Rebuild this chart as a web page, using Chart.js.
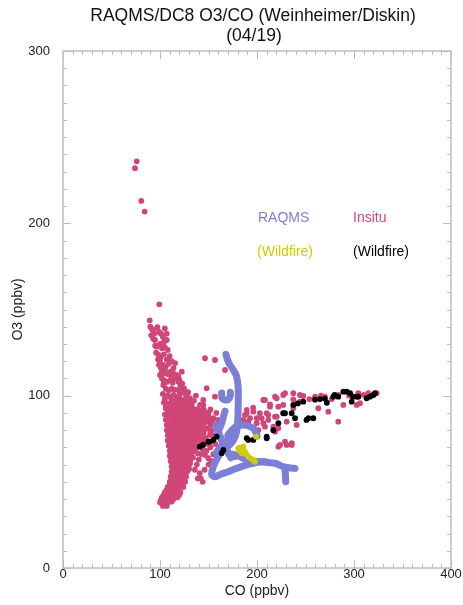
<!DOCTYPE html>
<html>
<head>
<meta charset="utf-8">
<title>RAQMS/DC8 O3/CO (Weinheimer/Diskin)</title>
<script src="https://cdn.jsdelivr.net/npm/chart.js@4/dist/chart.umd.min.js"></script>
<style>
  html, body { margin: 0; padding: 0; background: #ffffff; }
  canvas { display: block; }
</style>
</head>
<body>
<canvas id="chart" width="463" height="605"></canvas>
<script>
// ---- Axis ranges and tick labels ----
const coRange = [0, 400];
const o3Range = [0, 300];
const coTickLabels = [0, 100, 200, 300, 400];
const o3TickLabels = [0, 100, 200, 300];

// ---- In situ (DC8) CO / O3 pairs, ppbv ----
const insituHigh = [[76,236],[74.2,232],[80.7,213],[84.2,206.8],[99.3,153]];

const insituNorthArm = [
  [89.4,143.7],[92,138.3],[93,138.5],[97.3,139.7],[99,137],[101,136],[103,134],[105,139],[106.9,136],
  [94.8,132.3],[104,131],[107,132.3],[96.6,128.4],[100,130],[102,127.5],[105,128],[108,126.5],
  [98,124],[101,122.5],[104,124],[107,121],[110,123],[100,120.7],[103,118],[106,117],[109,118.5],
  [112,120],[102,114],[105.2,114.9],[108,112.5],[111,114],[113.7,113],[115.5,118.8],[103.4,113],
  [104,109],[107,108],[110.3,109],[113,107.5],[116,110],[118.9,108.1],[103.4,106.2],[106,104],
  [109,103],[112,104],[115,103.5],[118.9,103.3],[121,106],[122.4,113.9],[108,100],[111,99],
  [114,100.5],[117,99],[120,100.5],[124,102.3],[127.5,99.4],[130.9,98.5],[120.6,103.3],
  [132.7,94.6],[134.3,91.7],[124,92.7],[115.5,94.6],[108.6,94.6],[110.3,94.6],
  [90,140],[91,135],[93,133],[95,129],[94,136],[96,125],[98,121],[99,118],[101,116],[100,112],
  [102,110],[104,107],[117,112],[119,111],[114,116],[112,111],[120,109],[123,107],[125,104],
  [126,101],[129,102],[103,101],[105,98],[113,97],[117,96.5],[121,98],[125,97.5],[128,96],
  [131,96],[135,97]
];

const insituCore = [
  [104,96],[108,95.5],[112,96.5],[117,95],[122,96],
  [106,92.5],[110,92],[114,93],[118,92],[122,92.5],[127,92],[131,93],[136,92],
  [105,89],[109,89.5],[113,89],[117,89.5],[121,89],[125,89.5],[129,89],[133,89.5],[137,89],[142,90],
  [106,86],[110,86.5],[114,86],[118,86.5],[122,86],[126,86.5],[130,86],[134,86.5],[138,86],[144,86.5],
  [107,83],[111,83.5],[115,83],[119,83.5],[123,83],[127,83.5],[131,83],[135,83.5],[139,83],[145,83],[152,83],
  [107,80],[111,80.5],[115,80],[119,80.5],[123,80],[127,80.5],[131,80],[135,80.5],[140,80],[146,80.5],
  [108,77],[112,77.5],[116,77],[120,77.5],[124,77],[128,77.5],[132,77],[136,77.5],[142,77],
  [108,74],[112,74.5],[116,74],[120,74.5],[124,74],[128,74.5],[132,74],[137,74.5],[143,74.5],
  [109,71],[113,71.5],[117,71],[121,71.5],[125,71],[129,71.5],[134,71],[139,70.5],
  [110,68],[114,68.5],[118,68],[122,68.5],[126,68],[130,68.5],[135,68],
  [110,65],[114,65.5],[118,65],[122,65.5],[126,65],[131,65.5],
  [111,62],[115,62.5],[119,62],[123,62.5],[127,62],[131,62],
  [112,59],[116,59.5],[120,59],[124,59.5],[129,59],
  [112,56],[116,56.5],[120,56],[124,56.5],[128,56],
  [111,53],[115,53.5],[119,53],[123,53.5],[127,53],
  [110,50],[114,50.5],[118,50],[122,50.5],[126,50],
  [108,47],[112,47.5],[116,47],[120,47.5],[124,47],
  [105,44],[109,44.5],[113,44],[117,44.5],[121,44],
  [102,41],[106,41.5],[110,41],[114,41.5],[118,41],
  [100,38],[104,38.5],[108,38],[112,38.5],
  [103,36],[107,36]
];

const insituCoreFill = [
  [106,94],[110,94.5],[115,94],[120,94],[125,94.5],[129,95],
  [108,90.5],[112,91],[116,90.5],[120,91],[124,90.5],[128,91],[132,90.5],[135,91],[140,91.5],[145,91],[150,90],
  [108,87.5],[112,88],[116,87.5],[120,88],[124,87.5],[128,88],[132,87.5],[136,88],[140,87.5],[146,88],[150,86.5],
  [109,84.5],[113,85],[117,84.5],[121,85],[125,84.5],[129,85],[133,84.5],[137,85],[142,84.5],[148,85],[154,85.5],
  [109,81.5],[113,82],[117,81.5],[121,82],[125,81.5],[129,82],[133,81.5],[137,82],[143,81.5],[149,81],
  [110,78.5],[114,79],[118,78.5],[122,79],[126,78.5],[130,79],[134,78.5],[139,79],[145,78.5],[152,79],
  [110,75.5],[114,76],[118,75.5],[122,76],[126,75.5],[130,76],[134,75.5],[140,76],[147,75.5],
  [110,72.5],[115,73],[119,72.5],[123,73],[127,72.5],[131,73],[136,72.5],[142,73],[149,72],
  [111,69.5],[116,70],[120,69.5],[124,70],[128,69.5],[132,70],[137,69.5],[144,69],
  [112,66.5],[116,67],[120,66.5],[124,67],[128,66.5],[133,67],[139,66.5],
  [112,63.5],[117,64],[121,63.5],[125,64],[129,63.5],[134,64],
  [113,60.5],[118,61],[122,60.5],[126,61],[131,60.5],
  [114,57.5],[118,58],[122,57.5],[126,58],[130,57.5],
  [113,54.5],[117,55],[121,54.5],[125,55],
  [112,51.5],[116,52],[120,51.5],[124,52],
  [110,48.5],[114,49],[118,48.5],[122,49],
  [107,45.5],[111,46],[115,45.5],[119,46],
  [104,42.5],[108,43],[112,42.5],[116,43],[120,42.5],
  [101,39.5],[106,40],[110,39.5],[114,40]
];

const insituScatter = [
  [146.4,121.7],[156.7,120.7],[167,114.9],[148.1,104.3],[141.2,94.6],[144.6,97.5],[156.7,99.4],
  [144.6,94.6],[137,100],[141.2,86.9],[149.8,84.9],[151.5,77.2],[146.4,72.4],[146.4,65.6],
  [149.8,63.7],[155,86.9],[138,60],[141,55],[144,50],[139,52],[136,57],[143,66],[140,63],
  [138,92],[148,90],[152,92],[150,88],[153,80],[156,77],[148,68],[152,70],[155,66],[150,60],
  [146,57],[142,52],[153,62],[157,72],[158,90],[145,92],[160,86]
];

const insituEastArm = [
  [185.9,85.9],[192.8,86.9],[187.6,88.8],[189.4,89.8],[196.2,90.7],[199.7,86.9],[203,89.8],
  [204.8,86.9],[210,89.8],[211.6,88.8],[208.2,97.5],[206.5,97.5],[213.4,93.6],[218.6,99.4],
  [220.3,98.5],[222,93.6],[227,100.4],[228.9,101.4],[218.6,87.8],[220.3,87.8],[211.6,85.9],
  [199.7,84],[191,84.9],[208.2,82],[206.5,84],[216.8,82],[222,81.1],[218.6,79.1],[201.3,80],
  [230.6,84.9],[240.9,83],[189.4,91.7],[227,94.6],[237.4,92.7],[237.4,97.9],[237.4,101.4],
  [244.3,100.4],[244.3,96.5],[247.7,99.8],[254,98],[259.8,99.4],[263.2,92.7],[266,100],
  [270,99.4],[273.5,90.7],[277,98],[283.8,100.4],[283.8,84.9],[289,94.6],[295,100],
  [302.8,94.6],[304.4,101.4],[306.2,95.6],[310,100.5],[314.7,101.4],[323.4,101.4],
  [228.9,73.3],[235.8,72.4],[222,70.4],[230.6,71.4],[223.7,71.4],[235.8,71.4],[213.4,95],[196,93]
];

// ---- In situ, wildfire-flagged samples ----
const insituWildfire = [
  [141,70.4],[144.3,71.4],[149.8,73.3],[151.5,73.3],[155,74.3],[158.4,76.2],[163.6,66.6],
  [165.3,68.5],[189.4,75.3],[191,74.3],[196.2,74.3],[210,75.3],[210,76.2],[216.8,80],[222,84],
  [227,89.8],[228.9,89.8],[235.8,89.8],[237.4,94.6],[239.2,86.9],[242,95.5],[247.7,96.5],
  [251,85.9],[253,86.9],[258,86.9],[259.8,97.7],[265,98],[270,98.3],[272,95.9],[278.7,99.4],
  [280,100.4],[283.8,99.4],[289,102.3],[292.5,102.3],[296,101.4],[297.6,96.5],[299,99.4],
  [302.8,99.4],[304.5,99.4],[313,98.5],[316.5,99.4],[320,100.4],[321.6,101.4]
];

// ---- RAQMS along the flight track (drawn as tracks) ----
const raqmsNorth = [[168,124],[169.5,121],[172,118],[175.5,115],[178.5,112],[180,108],[180.7,103],
  [180.7,97],[180.5,91],[180.2,86],[179.5,81],[178,77],[175,73.5],[171,71]];
const raqmsHook = [[163.6,101.5],[164,98.5],[167,97.5],[170.5,97.8],[172.5,100],[172.5,102]];
const raqmsStem = [[167,91],[165,87],[163.6,84],[161.5,81],[160,79],[163,75],[167,71],[170,67],[173,64]];
const raqmsCross1 = [[158,83],[160,79],[163,75],[167,70],[172,66],[177,64.6]];
const raqmsCross2 = [[158,67],[162,70],[167,73],[172,76],[176,79]];
const raqmsArc = [[170,77],[174,80],[180,82.5],[187.6,83],[193,82],[196.2,81],[199,78.5],[200,76.5]];
const raqmsLoop = [[166,70],[162,67],[160,64.6],[157,61.5],[155,58.8],[153.5,56],[153.3,54],[156.7,53],
  [163,54.5],[170.4,55.9],[177,57.5],[184.2,58.8],[190,60],[196.2,60.8],[202,61.5],[208.2,61.7]];
const raqmsEast = [[175,66],[180.7,65],[186,63.5],[191,62.7],[198,61.8],[208,61.5],[214,61],[218.6,60.8],
  [223,59.8],[227,58.8],[233,58.2],[239.2,57.8]];
const raqmsDrop = [[228.9,57],[229.3,54],[229.6,50.1]];

// ---- RAQMS, wildfire contribution ----
const raqmsWildfire = [[199,76.2],[180.7,69.5],[183,70],[185.9,70.4],[187.6,67.5],[184.2,66.6],[182,68],
  [189,66],[191,64.6],[193.5,63.5],[196.2,62.7],[197.9,61.7]];

// ---- Text ----
const titleLines = ['RAQMS/DC8 O3/CO (Weinheimer/Diskin)', '(04/19)'];
const xTitle = 'CO (ppbv)';
const yTitle = 'O3 (ppbv)';
const keyLabels = [
  { text: 'RAQMS', color: '#7b7fd6', x: 258, y: 218 },
  { text: 'Insitu', color: '#cf4677', x: 353, y: 218 },
  { text: '(Wildfire)', color: '#cfcc00', x: 257, y: 252.5 },
  { text: '(Wildfire)', color: '#000000', x: 353, y: 252.5 }
];

const FONT = "'Liberation Sans', Arial, Helvetica, sans-serif";
const PINK = '#cf4677';
const PERIWINKLE = '#7b7fd6';
const OLIVE_YELLOW = '#cfcc00';
const AXIS_GREY = '#bdbdbd';

const toXY = arr => arr.map(([x, y]) => ({ x, y }));

function dots(data, color, order) {
  return { data: toXY(data), backgroundColor: color, borderWidth: 0, pointRadius: 2.9,
           pointHoverRadius: 2.9, showLine: false, order };
}
function track(data) {
  return { data: toXY(data), borderColor: PERIWINKLE, backgroundColor: PERIWINKLE, borderWidth: 7,
           borderCapStyle: 'round', borderJoinStyle: 'round', pointRadius: 0, showLine: true,
           tension: 0.25, order: 3 };
}

// Box frame with inward ticks on all four sides, plus title and key text
const boxFrame = {
  id: 'boxFrame',
  afterDraw(chart) {
    const { ctx, chartArea: a, scales: { x, y } } = chart;
    ctx.save();
    ctx.strokeStyle = AXIS_GREY;
    ctx.lineWidth = 1.5;
    ctx.strokeRect(a.left, a.top, a.right - a.left, a.bottom - a.top);
    ctx.lineWidth = 1;
    ctx.beginPath();
    for (let v = coRange[0]; v <= coRange[1]; v += 10) {
      const px = Math.round(x.getPixelForValue(v)) + 0.5;
      const len = v % 100 === 0 ? 8 : 4;
      ctx.moveTo(px, a.bottom); ctx.lineTo(px, a.bottom - len);
      ctx.moveTo(px, a.top); ctx.lineTo(px, a.top + len);
    }
    for (let v = o3Range[0]; v <= o3Range[1]; v += 10) {
      const py = Math.round(y.getPixelForValue(v)) + 0.5;
      const len = v % 100 === 0 ? 8 : 4;
      ctx.moveTo(a.left, py); ctx.lineTo(a.left + len, py);
      ctx.moveTo(a.right, py); ctx.lineTo(a.right - len, py);
    }
    ctx.stroke();

    ctx.fillStyle = '#111';
    ctx.textAlign = 'center';
    ctx.textBaseline = 'middle';
    ctx.font = `17.5px ${FONT}`;
    ctx.fillText(titleLines[0], 253, 16.5);
    ctx.fillText(titleLines[1], 254, 36);

    ctx.textAlign = 'left';
    ctx.font = `14px ${FONT}`;
    keyLabels.forEach(k => { ctx.fillStyle = k.color; ctx.fillText(k.text, k.x, k.y); });
    ctx.restore();
  }
};

new Chart(document.getElementById('chart'), {
  type: 'scatter',
  data: {
    datasets: [
      dots(insituHigh, PINK, 4),
      dots(insituNorthArm, PINK, 4),
      dots(insituCore, PINK, 4),
      dots(insituCoreFill, PINK, 4),
      dots(insituScatter, PINK, 4),
      dots(insituEastArm, PINK, 4),
      track(raqmsNorth), track(raqmsHook), track(raqmsStem), track(raqmsCross1), track(raqmsCross2),
      track(raqmsArc), track(raqmsLoop), track(raqmsEast), track(raqmsDrop),
      dots(insituWildfire, '#000000', 2),
      dots(raqmsWildfire, OLIVE_YELLOW, 1)
    ]
  },
  options: {
    responsive: false,
    animation: false,
    events: [],
    layout: { padding: { top: 51, right: 12, left: 0, bottom: 0 } },
    plugins: { legend: { display: false }, title: { display: false }, tooltip: { enabled: false } },
    scales: {
      x: {
        type: 'linear', position: 'bottom', min: coRange[0], max: coRange[1],
        afterBuildTicks: s => { s.ticks = coTickLabels.map(v => ({ value: v })); },
        ticks: { color: '#222', font: { family: FONT, size: 13 }, padding: -1, maxRotation: 0 },
        grid: { display: false, drawTicks: false },
        border: { display: false },
        title: { display: true, text: xTitle, color: '#222', font: { family: FONT, size: 14 },
                 padding: { top: 0, bottom: 5 } },
        afterFit: s => { s.height = 37; }
      },
      y: {
        type: 'linear', position: 'left', min: o3Range[0], max: o3Range[1],
        afterBuildTicks: s => { s.ticks = o3TickLabels.map(v => ({ value: v })); },
        ticks: { color: '#222', font: { family: FONT, size: 13 }, padding: 13 },
        grid: { display: false, drawTicks: false },
        border: { display: false },
        title: { display: true, text: yTitle, color: '#222', font: { family: FONT, size: 14 },
                 padding: { top: 10, bottom: 0 } },
        afterFit: s => { s.width = 63; }
      }
    }
  },
  plugins: [boxFrame]
});
</script>
</body>
</html>
